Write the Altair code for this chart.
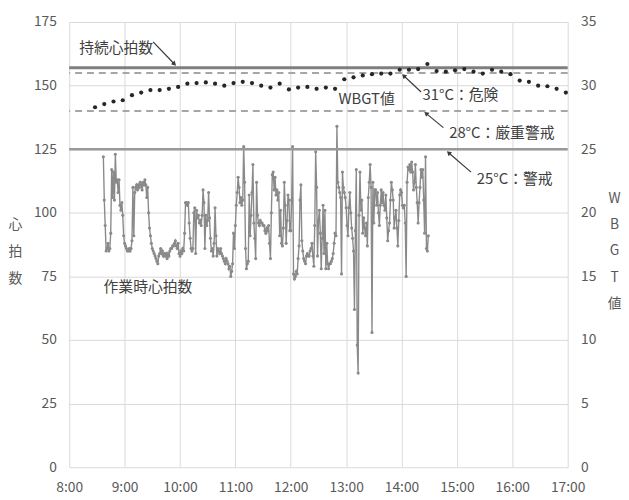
import altair as alt
import pandas as pd

FONT = "Noto Sans CJK JP"

# ---- data ----
hr_start = "8:37"          # heart-rate samples, one per minute
hr_values = [
    122, 105, 95, 85, 86, 88, 85, 86, 92,
    117, 106, 116, 105, 123, 112, 113, 108, 113, 103,
    101, 104, 99, 91, 88, 87, 86, 85, 85, 86,
    85, 86, 89, 110, 91, 108, 110, 111, 109, 111,
    110, 112, 111, 109, 112, 111, 113, 111, 106, 110,
    100, 94, 91, 88, 86, 85, 84, 83, 82, 81,
    80, 83, 84, 86, 84, 85, 83, 84, 83, 84,
    82, 84, 83, 85, 86, 86, 87, 87, 88, 89,
    87, 86, 88, 84, 83, 85, 84, 86, 85, 92,
    104, 104, 103, 104, 96, 90, 86, 85, 86, 100,
    102, 84, 101, 98, 99, 96, 97, 95, 99, 109,
    104, 86, 99, 95, 97, 108, 98, 90, 85, 86,
    83, 88, 102, 91, 83, 86, 85, 84, 86, 84,
    83, 82, 81, 80, 82, 81, 80, 78, 79, 75,
    77, 80, 92, 86, 95, 103, 108, 114, 110, 104,
    106, 103, 105,
    126, 112, 86, 78, 80, 81, 107, 91, 99, 108,
    119, 96, 90, 82, 112, 99, 96, 95, 97, 96,
    96, 95, 95, 93, 92, 94, 93, 95, 88, 82,
    100, 115, 116, 109, 114, 107, 109, 105, 108, 91,
    101, 88, 87, 94, 112, 103, 88, 97, 107, 105, 93,
    93, 105, 126, 76, 74, 75, 77, 76, 82, 87,
    105, 111, 89, 85, 82, 81, 80, 83, 84, 83,
    83, 85, 86, 88, 83, 79, 95, 124, 110, 83,
    97, 101, 92, 78, 90, 103, 84, 101, 78, 88,
    80, 78, 80, 80, 81, 82, 84, 88, 92, 91,
    134, 112, 110, 108, 106, 76,
    116, 110, 108, 106, 102, 95, 91, 102, 108, 100,
    94, 90, 85, 62, 93, 117, 48, 37, 99, 116,
    101, 105, 92, 98, 94, 91, 96, 87, 106, 112,
    119, 110, 53, 112, 96, 109, 109, 103, 108, 100,
    95, 103, 109, 104, 108, 103, 101, 107, 98, 89,
    93, 96, 105, 112, 109, 105, 94, 98, 101, 94,
    87, 97, 107, 109, 108, 103, 102, 103, 96, 75,
    112, 118, 117, 119, 116, 120, 116, 109, 112, 119,
    110, 104, 96, 104, 110, 117, 114, 117, 105, 92,
    122, 86, 85, 91,
]

wbgt_start = "8:28"        # WBGT readings, every 10 minutes
wbgt_values = [
    28.3, 28.55, 28.75, 28.85, 29.25, 29.45, 29.65, 29.65, 29.75, 29.9,
    30.15, 30.2, 30.25, 30.15, 30.0, 30.2, 30.3, 30.2, 30.0, 29.85,
    30.15, 29.7, 29.85, 29.9, 29.75, 29.85, 29.75, 30.5, 30.65, 30.8,
    30.9, 30.95, 30.95, 31.25, 31.25, 31.3, 31.7, 31.15, 31.1, 31.2,
    31.3, 31.1, 30.95, 31.25, 31.1, 30.9, 30.4, 30.3, 30.0, 29.95,
    29.75, 29.45,
]

sustained_hr = [157]
wbgt_dashed = [31, 28]
wbgt_solid = [25]

hour_ticks = [8, 9, 10, 11, 12, 13, 14, 15, 16, 17]
hr_ticks = [0, 25, 50, 75, 100, 125, 150, 175]
wbgt_ticks = [0, 5, 10, 15, 20, 25, 30, 35]

ann_text = ["持続心拍数", "WBGT値", "31°C：危険", "28°C：厳重警戒", "25°C：警戒", "作業時心拍数"]
ann_t = [8.18, 13.37, 14.38, 14.86, 15.36, 8.62]
ann_v = [164.9, 144.7, 146.3, 131.5, 113.3, 71.0]
ann_align = ["left", "center", "left", "left", "left", "left"]

arrow_t1 = [9.515, 14.353, 14.756, 15.255]
arrow_v1 = [167.2, 147.5, 133.5, 116.0]
arrow_t2 = [9.89, 14.05, 14.453, 14.86]
arrow_v2 = [158.7, 153.7, 138.9, 123.4]
arrow_angle = [136, 313, 309, 311]


def to_hours(s):
    h, m = s.split(":")
    return int(h) + int(m) / 60.0


hr_t0 = to_hours(hr_start)
hr_df = pd.DataFrame({"t": [hr_t0 + i / 60.0 for i in range(len(hr_values))], "v": hr_values})
w_t0 = to_hours(wbgt_start)
wbgt_df = pd.DataFrame({"t": [w_t0 + i / 6.0 for i in range(len(wbgt_values))], "w": wbgt_values})
ann_df = pd.DataFrame({"t": ann_t, "v": ann_v, "text": ann_text, "align": ann_align})
arrow_df = pd.DataFrame({"t1": arrow_t1, "v1": arrow_v1, "t2": arrow_t2, "v2": arrow_v2, "angle": arrow_angle})

LABEL_COLOR = "#595959"
GRID = "#d9d9d9"


def X(field):
    return alt.X(
        field, type="quantitative",
        scale=alt.Scale(domain=[8, 17], nice=False, zero=False),
        axis=alt.Axis(values=hour_ticks, labelExpr="datum.value + ':00'", grid=True,
                      gridColor=GRID, domain=False, ticks=False, labelPadding=14,
                      labelFlush=False, labelOverlap=False,
                      labelFontSize=14, labelColor=LABEL_COLOR, labelFont=FONT, title=None),
    )


def YL(field):
    return alt.Y(
        field, type="quantitative",
        scale=alt.Scale(domain=[0, 175], nice=False, zero=True),
        axis=alt.Axis(values=hr_ticks, grid=True, gridColor=GRID, domain=False, ticks=False,
                      labelFlush=False,
                      labelPadding=13, labelFontSize=14, labelColor=LABEL_COLOR, labelFont=FONT,
                      title=["心", "拍", "数"], titleAngle=0, titleX=-55, titleY=198,
                      titleBaseline="top", titleAlign="center", titleLineHeight=27.5,
                      titleFontWeight="normal", titleFontSize=14, titleColor=LABEL_COLOR,
                      titleFont=FONT),
    )


def YR(field):
    return alt.Y(
        field, type="quantitative",
        scale=alt.Scale(domain=[0, 35], nice=False, zero=True),
        axis=alt.Axis(orient="right", values=wbgt_ticks, grid=False, domain=False, ticks=False,
                      labelFlush=False,
                      labelPadding=13, labelFontSize=14, labelColor=LABEL_COLOR, labelFont=FONT,
                      title=["W", "B", "G", "T", "値"], titleAngle=0, titleX=47, titleY=172,
                      titleBaseline="top", titleAlign="center", titleLineHeight=26.5,
                      titleFontWeight="normal", titleFontSize=14, titleColor=LABEL_COLOR,
                      titleFont=FONT),
    )


hr_line = alt.Chart(hr_df).mark_line(
    color="#8a8a8a", strokeWidth=1.4,
    point=alt.OverlayMarkDef(filled=True, size=10, color="#8a8a8a"),
).encode(x=X("t"), y=YL("v"))

rule157 = alt.Chart(pd.DataFrame({"v": sustained_hr})).mark_rule(
    color="#7f7f7f", strokeWidth=3
).encode(y=YL("v"))

arrows = alt.Chart(arrow_df).mark_rule(color="#3a3a3a", strokeWidth=1.2).encode(
    x=X("t1"), x2="t2:Q", y=YL("v1"), y2="v2:Q"
)
heads = alt.Chart(arrow_df).mark_point(
    shape="triangle", filled=True, size=28, color="#3a3a3a", opacity=1
).encode(x=X("t2"), y=YL("v2"), angle=alt.Angle("angle:Q", scale=None))

texts_left = alt.Chart(ann_df[ann_df["align"] == "left"]).mark_text(
    font=FONT, fontSize=15, color="#404040", baseline="middle", align="left"
).encode(x=X("t"), y=YL("v"), text="text:N")
texts_center = alt.Chart(ann_df[ann_df["align"] == "center"]).mark_text(
    font=FONT, fontSize=15, color="#404040", baseline="middle", align="center"
).encode(x=X("t"), y=YL("v"), text="text:N")

left = alt.layer(rule157, hr_line, arrows, heads, texts_left, texts_center)

thr_dash = alt.Chart(pd.DataFrame({"w": wbgt_dashed})).mark_rule(
    color="#a6a6a6", strokeWidth=2, strokeDash=[7, 5]
).encode(y=YR("w"))
thr_solid = alt.Chart(pd.DataFrame({"w": wbgt_solid})).mark_rule(
    color="#999999", strokeWidth=2.5
).encode(y=YR("w"))
wbgt_pts = alt.Chart(wbgt_df).mark_circle(size=18, color="#262626", opacity=1).encode(
    x=X("t"), y=YR("w")
)

right = alt.layer(thr_dash, thr_solid, wbgt_pts)

chart = alt.layer(left, right).resolve_scale(y="independent").properties(
    width=505, height=451,
    autosize=alt.AutoSizeParams(type="none"),
    padding={"left": 62, "top": 11, "right": 54, "bottom": 30},
    background="white",
).configure_view(stroke=None)

chart.save("out.html", embed_options={"renderer": "svg", "actions": False})
